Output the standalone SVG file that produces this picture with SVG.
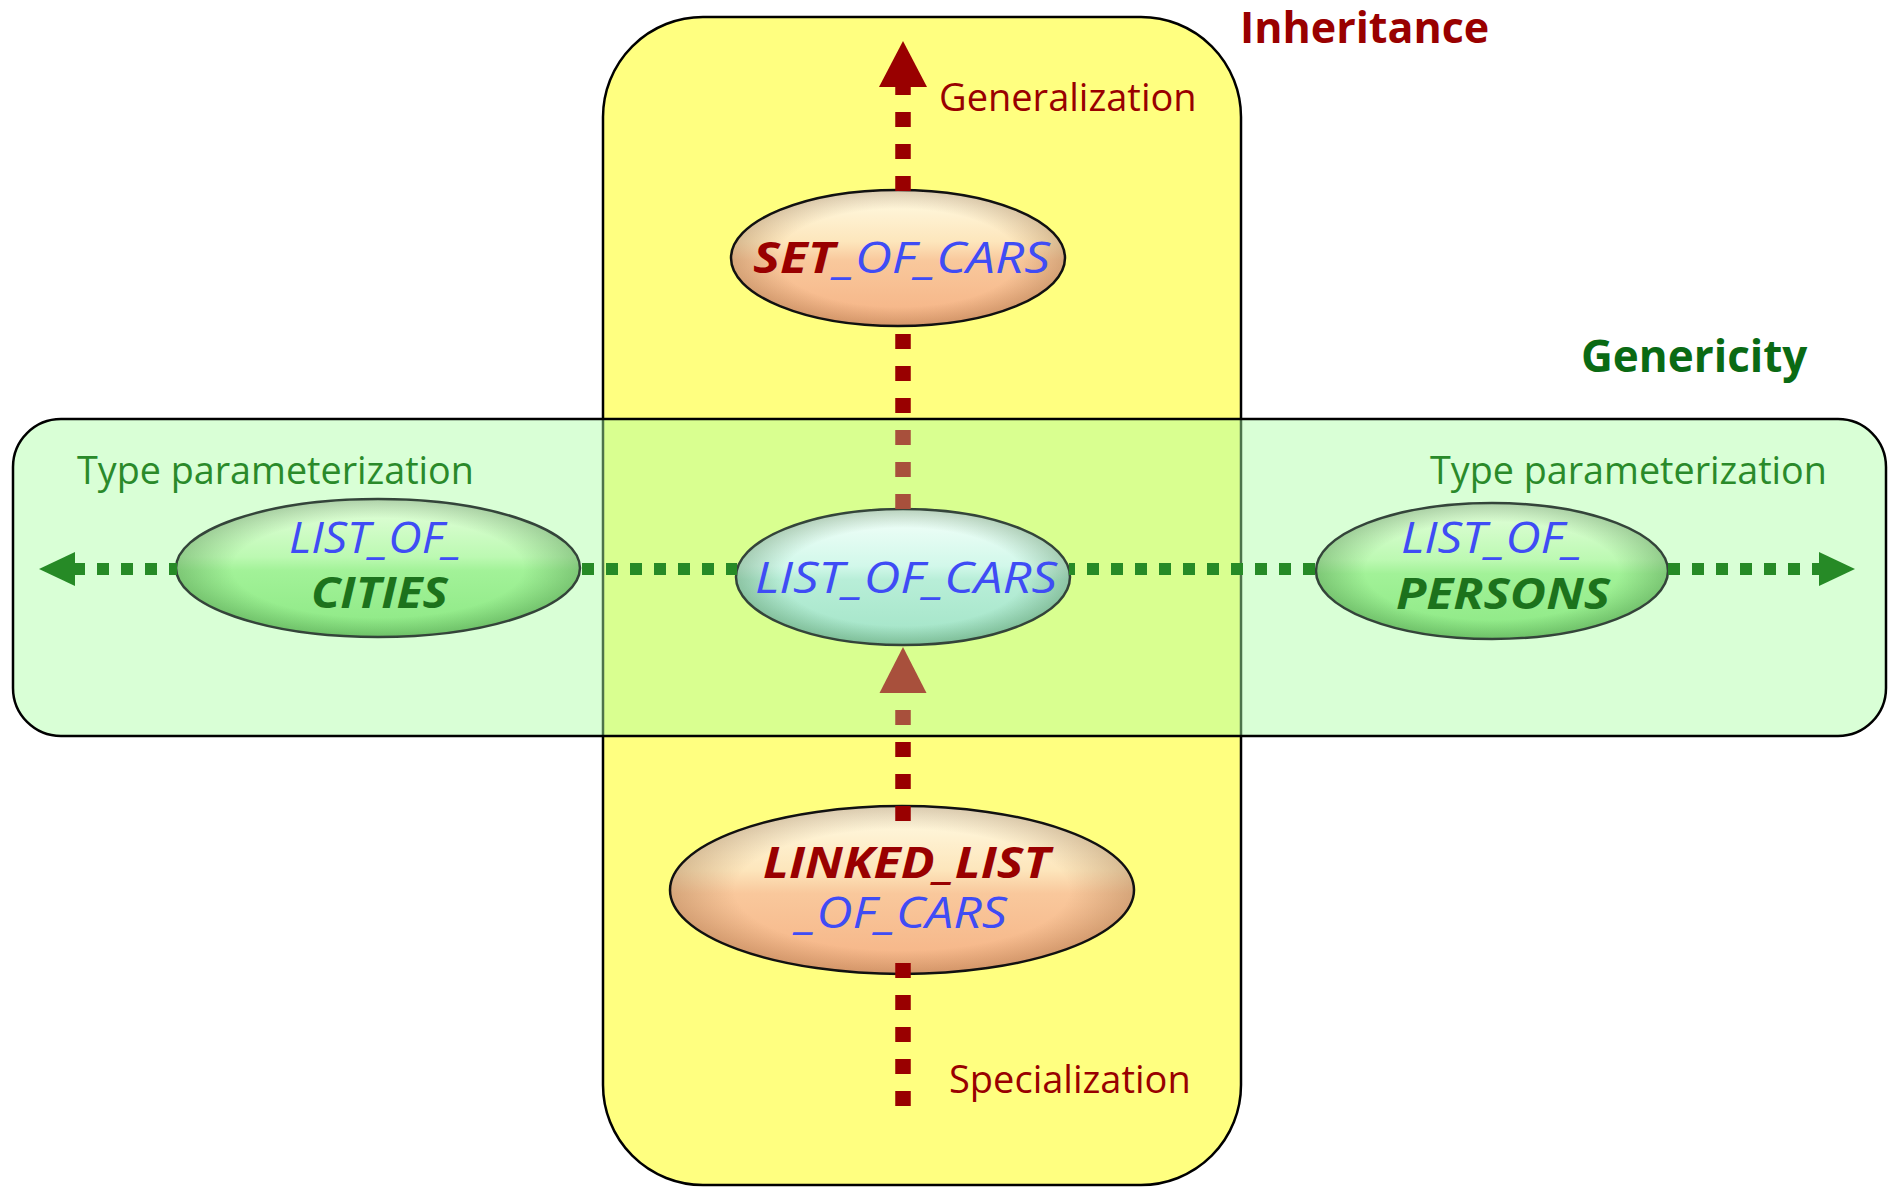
<svg xmlns="http://www.w3.org/2000/svg" width="1888" height="1187" viewBox="0 0 1888 1187">
  <defs>
    <!-- glossy fills for the class ellipses -->
    <linearGradient id="gloss-orange" x1="0" y1="0" x2="0" y2="1">
      <stop offset="0" stop-color="#fffce6"/>
      <stop offset="0.38" stop-color="#fde6bc"/>
      <stop offset="0.52" stop-color="#f9c89c"/>
      <stop offset="1" stop-color="#f5b284"/>
    </linearGradient>
    <linearGradient id="gloss-green" x1="0" y1="0" x2="0" y2="1">
      <stop offset="0" stop-color="#e6ffde"/>
      <stop offset="0.42" stop-color="#bcf9b2"/>
      <stop offset="0.52" stop-color="#a2f298"/>
      <stop offset="1" stop-color="#8ce884"/>
    </linearGradient>
    <linearGradient id="gloss-mint" x1="0" y1="0" x2="0" y2="1">
      <stop offset="0" stop-color="#f4fffa"/>
      <stop offset="0.42" stop-color="#d2f8ea"/>
      <stop offset="0.52" stop-color="#b8eed8"/>
      <stop offset="1" stop-color="#a2e4c6"/>
    </linearGradient>
    <radialGradient id="rim" cx="0.5" cy="0.5" r="0.5">
      <stop offset="0.72" stop-color="#7a4a20" stop-opacity="0"/>
      <stop offset="1" stop-color="#7a4a20" stop-opacity="0.28"/>
    </radialGradient>
    <radialGradient id="rim-green" cx="0.5" cy="0.5" r="0.5">
      <stop offset="0.72" stop-color="#1e5a1e" stop-opacity="0"/>
      <stop offset="1" stop-color="#1e5a1e" stop-opacity="0.28"/>
    </radialGradient>
    <!-- the inheritance axis is tinted where it crosses the genericity band -->
    <linearGradient id="axis-red" gradientUnits="userSpaceOnUse" x1="0" y1="0" x2="0" y2="1187">
      <stop offset="0" stop-color="#990000"/>
      <stop offset="0.3521" stop-color="#990000"/>
      <stop offset="0.3521" stop-color="#a8503c"/>
      <stop offset="0.6200" stop-color="#a8503c"/>
      <stop offset="0.6200" stop-color="#990000"/>
      <stop offset="1" stop-color="#990000"/>
    </linearGradient>
  </defs>

  <style>
    .area { stroke: #000; stroke-width: 2.5; }
    .inherit-area { fill: #ffff80; }
    .generic-area { fill: #aaffa5; fill-opacity: 0.45; }
    .orange { fill: url(#gloss-orange); }
    .green { fill: url(#gloss-green); }
    .mint { fill: url(#gloss-mint); }
    .rim { fill: url(#rim); }
    .rim-g { fill: url(#rim-green); }
    .outline { fill: none; stroke: #111; stroke-width: 2.5; }
    .outline-g { fill: none; stroke: #34443a; stroke-width: 2.5; }
    .node-text { font-family: "Open Sans", "Liberation Sans", sans-serif; font-size: 43px; font-style: italic; }
    .blue { fill: #3f4cf5; }
    .cls-red { fill: #990000; font-weight: bold; }
    .cls-green { fill: #1c721c; font-weight: bold; }
    .label { font-family: "Open Sans", "Liberation Sans", sans-serif; }
    .title-red { fill: #990000; font-size: 43px; font-weight: bold; }
    .title-green { fill: #0a6a14; font-size: 44px; font-weight: bold; }
    .axis-red { fill: #990000; font-size: 38px; }
    .axis-green { fill: #2a8a2a; font-size: 37.7px; }
    .red-link { fill: none; stroke: url(#axis-red); stroke-width: 15.5; stroke-dasharray: 15 17; }
    .green-link { fill: none; stroke: #268a26; stroke-width: 12; stroke-dasharray: 12 12; }
    .red-head { fill: #990000; }
    .red-head-tint { fill: #a8503c; }
    .green-head { fill: #268a26; }
  </style>

  <!-- areas -->
  <g id="inheritance-area">
    <rect class="area inherit-area" x="603" y="17" width="638" height="1168" rx="100" ry="100"/>
  </g>
  <g id="genericity-area">
    <rect class="area generic-area" x="13" y="419" width="1873" height="317" rx="48" ry="48"/>
  </g>

  <!-- classes -->
  <g id="set-of-cars">
    <ellipse class="orange" cx="898" cy="258" rx="167" ry="68"/>
    <ellipse class="rim" cx="898" cy="258" rx="167" ry="68"/>
    <ellipse class="outline" cx="898" cy="258" rx="167" ry="68"/>
    <text class="node-text" x="753" y="273" textLength="297" lengthAdjust="spacingAndGlyphs"><tspan class="cls-red">SET</tspan><tspan class="blue">_OF_CARS</tspan></text>
  </g>

  <g id="list-of-cars">
    <ellipse class="mint" cx="903" cy="577" rx="167" ry="68"/>
    <ellipse class="rim-g" cx="903" cy="577" rx="167" ry="68"/>
    <ellipse class="outline-g" cx="903" cy="577" rx="167" ry="68"/>
    <text class="node-text blue" x="755" y="593" textLength="302" lengthAdjust="spacingAndGlyphs">LIST_OF_CARS</text>
  </g>

  <g id="list-of-cities">
    <ellipse class="green" cx="378" cy="568" rx="202" ry="69"/>
    <ellipse class="rim-g" cx="378" cy="568" rx="202" ry="69"/>
    <ellipse class="outline-g" cx="378" cy="568" rx="202" ry="69"/>
    <text class="node-text"><tspan class="blue" x="289" y="553" textLength="173" lengthAdjust="spacingAndGlyphs">LIST_OF_</tspan><tspan class="cls-green" x="311" y="608" textLength="137" lengthAdjust="spacingAndGlyphs">CITIES</tspan></text>
  </g>

  <g id="list-of-persons">
    <ellipse class="green" cx="1492" cy="571" rx="176" ry="68"/>
    <ellipse class="rim-g" cx="1492" cy="571" rx="176" ry="68"/>
    <ellipse class="outline-g" cx="1492" cy="571" rx="176" ry="68"/>
    <text class="node-text"><tspan class="blue" x="1401" y="553" textLength="182" lengthAdjust="spacingAndGlyphs">LIST_OF_</tspan><tspan class="cls-green" x="1396" y="609" textLength="214" lengthAdjust="spacingAndGlyphs">PERSONS</tspan></text>
  </g>

  <g id="linked-list-of-cars">
    <ellipse class="orange" cx="902" cy="890" rx="232" ry="84"/>
    <ellipse class="rim" cx="902" cy="890" rx="232" ry="84"/>
    <ellipse class="outline" cx="902" cy="890" rx="232" ry="84"/>
    <text class="node-text"><tspan class="cls-red" x="763" y="878" textLength="287" lengthAdjust="spacingAndGlyphs">LINKED_LIST</tspan><tspan class="blue" x="797" y="928" textLength="210" lengthAdjust="spacingAndGlyphs">_OF_CARS</tspan></text>
  </g>

  <!-- connectors -->
  <g id="connectors">
    <!-- inheritance axis (vertical) -->
    <path class="red-link" d="M903,191 V87"/>
    <polygon class="red-head" points="903,41 879,87 927,87"/>
    <path class="red-link" d="M903,509 V326"/>
    <path class="red-link" d="M903,821 V693"/>
    <polygon class="red-head-tint" points="903,647 879.5,693 926.5,693"/>
    <path class="red-link" d="M903,963 V1107"/>
    <!-- genericity axis (horizontal) -->
    <path class="green-link" d="M73,569 H177"/>
    <polygon class="green-head" points="39,569 75,552 75,586"/>
    <path class="green-link" d="M580,569 H737" stroke-dashoffset="22"/>
    <path class="green-link" d="M1069,569 H1317" stroke-dashoffset="6"/>
    <path class="green-link" d="M1819,569 H1667" stroke-dashoffset="5"/>
    <polygon class="green-head" points="1855,569 1819,552 1819,586"/>
  </g>

  <!-- axis labels -->
  <g id="labels">
    <text class="label title-red" x="1240" y="43">Inheritance</text>
    <text class="label axis-red" x="939" y="111">Generalization</text>
    <text class="label axis-red" x="949" y="1093">Specialization</text>
    <text class="label title-green" x="1581" y="372">Genericity</text>
    <text class="label axis-green" x="77" y="484">Type parameterization</text>
    <text class="label axis-green" x="1430" y="484">Type parameterization</text>
  </g>
</svg>
